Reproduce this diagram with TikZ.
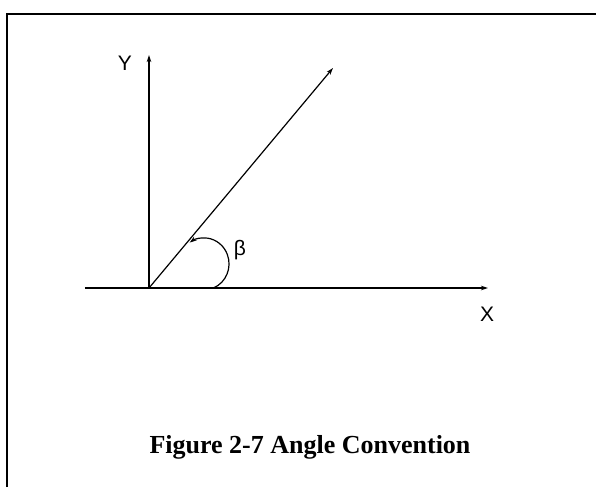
\documentclass[tikz,border=0pt]{standalone}
\usepackage{fontspec}
\setmainfont{Liberation Serif}
\newfontfamily\labelfont{Liberation Sans}
\usetikzlibrary{arrows.meta,arrows}
\tikzset{
axislabel/.style={font=\labelfont\fontsize{21}{24}\selectfont},
smalltip/.style={-{Stealth[length=7pt,width=4.5pt]}}
}
\begin{document}
\begin{tikzpicture}[=>stealth,x=1pt,y=1pt,line width=1.2pt]
\useasboundingbox(-149,-199)rectangle(447,288);
\coordinate(O)at(0,0);
\coordinate(xl)at(-64,0);
\coordinate(xr)at(339,0);
\coordinate(yt)at(0,233);
\coordinate(ray)at(184,220);
\coordinate(arcstart)at(64.4,0);
\coordinate(framebl)at(-142,-199);
\coordinate(frametl)at(-142,274);
\coordinate(frametr)at(447,274);
\draw[line width=1.8pt](framebl)--(frametl)--(frametr);
\draw[smalltip](xl)--(xr);
\draw[smalltip](O)--(yt);
\draw[smalltip](O)--(ray);
\draw[smalltip](arcstart)arc[start angle=-68,end angle=125,x radius=25,y radius=26];
\node[axislabel](ylabel)at(-24,225){Y};
\node[axislabel](xlabel)at(338,-26){X};
\node[axislabel](beta)at(91,38){β};
\node[font=\bfseries\fontsize{26}{30}\selectfont](caption)at(161,-159){Figure 2-7 Angle Convention};
\end{tikzpicture}
\end{document}
